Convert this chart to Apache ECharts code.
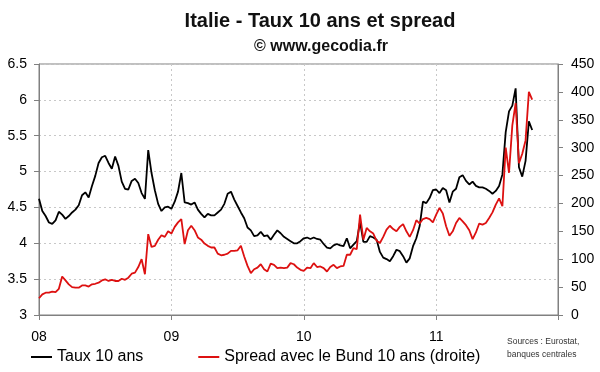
<!DOCTYPE html>
<html>
<head>
<meta charset="utf-8">
<script src="https://cdn.jsdelivr.net/npm/echarts@6/dist/echarts.min.js"></script>
<style>html,body{margin:0;padding:0;background:#fff;}#c{width:600px;height:372px;}</style>
</head>
<body>
<div id="c"></div>
<script>
// Sampling: one value every 1/40 year starting January 2008
const startYear = 2008;
const step = 1 / 40;
const tickLabels = ['08', '09', '10', '11'];
const seriesNames = ['Taux 10 ans', 'Spread avec le Bund 10 ans (droite)'];

// Italian 10-year yield (%), left axis
const taux = [
  4.62,4.45,4.38,4.29,4.27,4.32,4.44,4.40,4.34,4.38,
  4.43,4.47,4.53,4.67,4.71,4.64,4.80,4.94,5.12,5.20,
  5.22,5.12,5.04,5.21,5.08,4.86,4.76,4.75,4.87,4.90,
  4.84,4.70,4.62,5.30,4.98,4.74,4.55,4.45,4.50,4.51,
  4.48,4.58,4.72,4.98,4.57,4.56,4.54,4.57,4.47,4.41,
  4.36,4.41,4.39,4.39,4.43,4.47,4.55,4.69,4.72,4.61,
  4.52,4.43,4.35,4.22,4.18,4.10,4.11,4.16,4.10,4.11,
  4.05,4.12,4.18,4.14,4.09,4.06,4.03,4.00,4.00,4.03,
  4.07,4.08,4.06,4.08,4.06,4.05,3.99,3.94,3.93,3.97,
  3.99,3.97,3.96,4.07,3.93,3.98,4.03,4.30,4.02,4.02,
  4.10,4.08,4.05,3.88,3.80,3.78,3.75,3.82,3.91,3.89,
  3.82,3.73,3.79,3.96,4.07,4.24,4.58,4.56,4.63,4.74,
  4.75,4.70,4.77,4.74,4.57,4.72,4.76,4.92,4.95,4.87,
  4.82,4.86,4.80,4.78,4.78,4.76,4.73,4.69,4.73,4.80,
  4.96,5.55,5.84,5.92,6.16,5.06,4.93,5.15,5.70,5.58
];

// Spread vs German Bund 10 years (bp), right axis
const spread = [
  30,37,40,40,42,41,47,69,62,55,
  50,49,49,53,53,51,55,56,58,62,
  64,61,63,61,61,65,63,67,74,76,
  86,100,73,145,122,124,135,143,140,150,
  146,158,166,172,127,152,160,152,139,135,
  128,124,121,121,110,107,108,110,115,115,
  116,124,105,88,75,82,85,91,82,78,
  92,90,84,85,84,85,93,91,85,81,
  79,85,84,93,86,87,84,78,86,90,
  84,87,88,108,108,120,118,180,135,156,
  150,146,133,129,140,153,160,154,150,158,
  163,150,140,152,170,164,172,174,172,166,
  180,192,182,159,142,150,165,174,168,161,
  152,136,148,164,162,165,174,184,198,209,
  195,300,255,340,380,272,289,313,400,386
];

const chart = echarts.init(document.getElementById('c'), null, {renderer: 'canvas'});
const FONT = 'Liberation Sans, Arial, sans-serif';
const axisCol = '#808080';

const option = {
  animation: false,
  backgroundColor: '#fff',
  textStyle: {fontFamily: FONT},
  grid: {left: 39, right: 42, top: 64, bottom: 57, show: true, borderColor: axisCol, borderWidth: 1, containLabel: false},
  graphic: [
    {type: 'text', x: 320, y: 21, style: {text: 'Italie - Taux 10 ans et spread', font: 'bold 20px ' + FONT, fill: '#111', align: 'center', verticalAlign: 'middle'}},
    {type: 'text', x: 321, y: 47, style: {text: '\u00A9 www.gecodia.fr', font: 'bold 16px ' + FONT, fill: '#111', align: 'center', verticalAlign: 'middle'}},
    {type: 'text', x: 507, y: 335, style: {text: 'Sources : Eurostat,\nbanques centrales', font: '8.5px ' + FONT, lineHeight: 13, fill: '#333', align: 'left', verticalAlign: 'top'}}
  ],
  legend: {
    left: 26, top: 344, itemWidth: 21, itemHeight: 2, itemGap: 55, icon: 'rect',
    textStyle: {fontSize: 16, color: '#000', fontFamily: FONT},
    data: seriesNames
  },
  xAxis: {
    type: 'value', min: startYear, max: startYear + 3.92, interval: 1,
    axisLine: {onZero: false, lineStyle: {color: axisCol}},
    axisTick: {show: true, length: 5, lineStyle: {color: axisCol}},
    axisLabel: {margin: 15, fontSize: 14, color: '#000', fontFamily: FONT,
      formatter: function (v) { const i = Math.round(v - startYear); return (Math.abs(v - startYear - i) < 1e-6 && tickLabels[i]) ? tickLabels[i] : ''; }},
    splitLine: {show: true, lineStyle: {color: '#c8c8c8', type: [2, 3]}}
  },
  yAxis: [
    {type: 'value', position: 'left', min: 3, max: 6.5, interval: 0.5,
      axisLine: {show: true, lineStyle: {color: axisCol}},
      axisTick: {show: true, length: 5, lineStyle: {color: axisCol}},
      axisLabel: {margin: 12, fontSize: 14, color: '#000', fontFamily: FONT},
      splitLine: {show: true, lineStyle: {color: '#c8c8c8', type: [2, 3]}}},
    {type: 'value', position: 'right', min: 0, max: 450, interval: 50,
      axisLine: {show: true, lineStyle: {color: axisCol}},
      axisTick: {show: true, length: 5, lineStyle: {color: axisCol}},
      axisLabel: {margin: 13, fontSize: 14, color: '#000', fontFamily: FONT},
      splitLine: {show: false}}
  ],
  series: [
    {name: seriesNames[0], type: 'line', yAxisIndex: 0, showSymbol: false, symbol: 'none',
      lineStyle: {color: '#000', width: 1.8}, itemStyle: {color: '#000'},
      data: taux.map(function (v, i) { return [startYear + i * step, v]; })},
    {name: seriesNames[1], type: 'line', yAxisIndex: 1, showSymbol: false, symbol: 'none',
      lineStyle: {color: '#dd1111', width: 1.8}, itemStyle: {color: '#dd1111'},
      data: spread.map(function (v, i) { return [startYear + i * step, v]; })}
  ]
};
chart.setOption(option);
</script>
</body>
</html>
